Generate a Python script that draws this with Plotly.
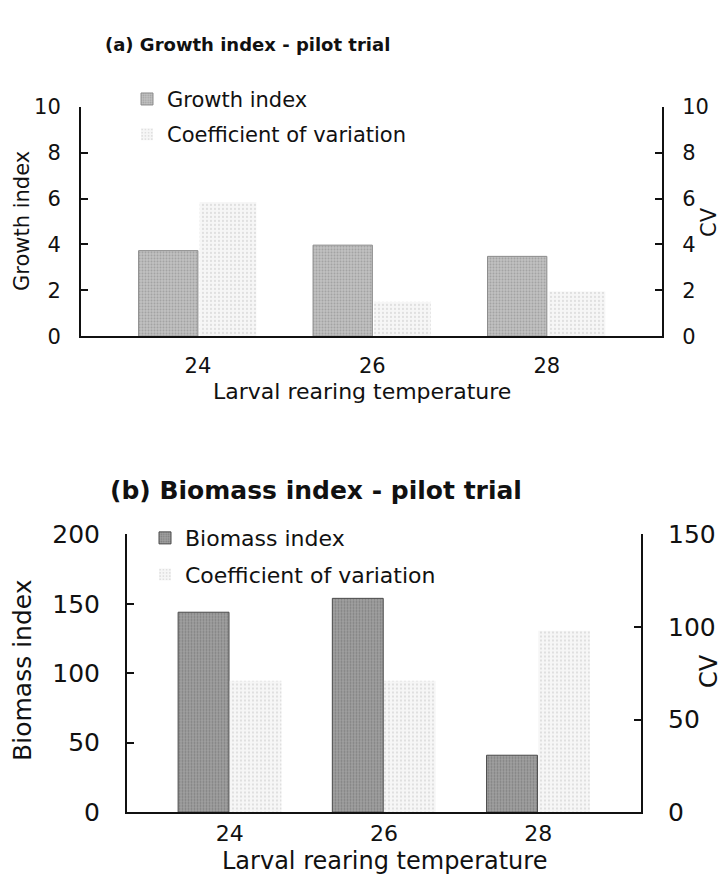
import plotly.graph_objects as go

# ---- data ----
temps = [24, 26, 28]
temp_labels = ["24", "26", "28"]
growth_index = [3.73, 3.97, 3.48]
growth_cv = [5.85, 1.5, 1.95]
biomass_index = [144, 154, 41]
biomass_cv = [71, 71, 98]

W, H = 724, 891
FONT = "DejaVu Sans"


def px(x):
    return x / W


def py(y):
    return 1 - y / H


fig = go.Figure()

# (a) growth index
fig.add_trace(go.Bar(
    x=temps, y=growth_index, name="Growth index", xaxis="x", yaxis="y",
    offset=-0.68, width=0.68, legend="legend", legendgroup="a1",
    marker=dict(color="#b3b3b3", line=dict(color="#8c8c8c", width=1),
                pattern=dict(shape=".", fgcolor="#7f7f7f", bgcolor="#c2c2c2",
                             size=3, solidity=0.35)),
))
fig.add_trace(go.Bar(
    x=temps, y=growth_cv, name="Coefficient of variation", xaxis="x", yaxis="y2",
    offset=0.02, width=0.65, legend="legend", legendgroup="a2",
    marker=dict(color="white", line=dict(width=0),
                pattern=dict(shape=".", fgcolor="#8a8a8a", bgcolor="#f6f6f6",
                             size=4, solidity=0.12)),
))

# (b) biomass index
fig.add_trace(go.Bar(
    x=temps, y=biomass_index, name="Biomass index", xaxis="x2", yaxis="y3",
    offset=-0.67, width=0.66, legend="legend2", legendgroup="b1",
    marker=dict(color="#8f8f8f", line=dict(color="#4a4a4a", width=1),
                pattern=dict(shape=".", fgcolor="#5e5e5e", bgcolor="#a0a0a0",
                             size=3, solidity=0.35)),
))
fig.add_trace(go.Bar(
    x=temps, y=biomass_cv, name="Coefficient of variation", xaxis="x2", yaxis="y4",
    offset=0.0, width=0.67, legend="legend2", legendgroup="b2",
    marker=dict(color="white", line=dict(width=0),
                pattern=dict(shape=".", fgcolor="#8a8a8a", bgcolor="#f6f6f6",
                             size=4, solidity=0.12)),
))

axis_line = dict(showline=True, linecolor="#111111", linewidth=2, showgrid=False,
                 zeroline=False)

fa = dict(family=FONT, size=21, color="#111111")
fb = dict(family=FONT, size=25, color="#111111")
fbx = dict(family=FONT, size=22, color="#111111")

fig.update_layout(
    width=W, height=H, margin=dict(l=0, r=0, t=0, b=0),
    paper_bgcolor="white", plot_bgcolor="white",
    barmode="overlay", showlegend=True,
    xaxis=dict(domain=[px(81), px(662)], anchor="y", range=[22.66, 29.32],
               tickvals=temps, ticktext=temp_labels, ticks="", tickfont=fa,
               ticklabelstandoff=10, **axis_line),
    yaxis=dict(domain=[py(333), py(96)], anchor="x", range=[0, 10], dtick=2,
               ticks="inside", ticklen=7, tickcolor="#111111", tickwidth=1.5,
               tickfont=fa, ticklabelstandoff=14, **axis_line),
    yaxis2=dict(overlaying="y", side="right", anchor="x", range=[0, 10], dtick=2,
                ticks="inside", ticklen=7, tickcolor="#111111", tickwidth=1.5,
                tickfont=fa, ticklabelstandoff=14, **axis_line),
    xaxis2=dict(domain=[px(127), px(641)], anchor="y3", range=[22.667, 29.333],
                tickvals=temps, ticktext=temp_labels, ticks="", tickfont=fbx,
                ticklabelstandoff=0, **axis_line),
    yaxis3=dict(domain=[py(825), py(538)], anchor="x2", range=[0, 200], dtick=50,
                ticks="inside", ticklen=7, tickcolor="#111111", tickwidth=1.5,
                tickfont=fb, ticklabelstandoff=20, **axis_line),
    yaxis4=dict(overlaying="y3", side="right", anchor="x2", range=[0, 150], dtick=50,
                ticks="inside", ticklen=7, tickcolor="#111111", tickwidth=1.5,
                tickfont=fb, ticklabelstandoff=20, **axis_line),
    legend=dict(x=px(127), y=py(67), xanchor="left", yanchor="top",
                bgcolor="rgba(0,0,0,0)", font=dict(family=FONT, size=21, color="#111111"),
                traceorder="grouped", tracegroupgap=5),
    legend2=dict(x=px(145), y=py(520), xanchor="left", yanchor="top",
                 bgcolor="rgba(0,0,0,0)", font=dict(family=FONT, size=22, color="#111111"),
                 traceorder="grouped", tracegroupgap=5),
    annotations=[
        dict(text="<b>(a) Growth index - pilot trial</b>", x=px(247), y=py(32),
             xref="paper", yref="paper", showarrow=False, xanchor="center",
             yanchor="middle", font=dict(family=FONT, size=18, color="#111111")),
        dict(text="Larval rearing temperature", x=px(362), y=py(390),
             xref="paper", yref="paper", showarrow=False, xanchor="center",
             yanchor="middle", font=dict(family=FONT, size=22, color="#111111")),
        dict(text="Growth index", x=px(22), y=py(214), textangle=-90,
             xref="paper", yref="paper", showarrow=False, xanchor="center",
             yanchor="middle", font=fa),
        dict(text="CV", x=px(709), y=py(215), textangle=-90,
             xref="paper", yref="paper", showarrow=False, xanchor="center",
             yanchor="middle", font=fa),
        dict(text="<b>(b) Biomass index - pilot trial</b>", x=px(316), y=py(493),
             xref="paper", yref="paper", showarrow=False, xanchor="center",
             yanchor="middle", font=dict(family=FONT, size=25, color="#111111")),
        dict(text="Larval rearing temperature", x=px(385), y=py(875),
             xref="paper", yref="paper", showarrow=False, xanchor="center",
             yanchor="middle", font=dict(family=FONT, size=24, color="#111111")),
        dict(text="Biomass index", x=px(23), y=py(679), textangle=-90,
             xref="paper", yref="paper", showarrow=False, xanchor="center",
             yanchor="middle", font=fb),
        dict(text="CV", x=px(709), y=py(679), textangle=-90,
             xref="paper", yref="paper", showarrow=False, xanchor="center",
             yanchor="middle", font=dict(family=FONT, size=24, color="#111111")),
    ],
)

fig.write_html("out.html", config={"displayModeBar": False})
